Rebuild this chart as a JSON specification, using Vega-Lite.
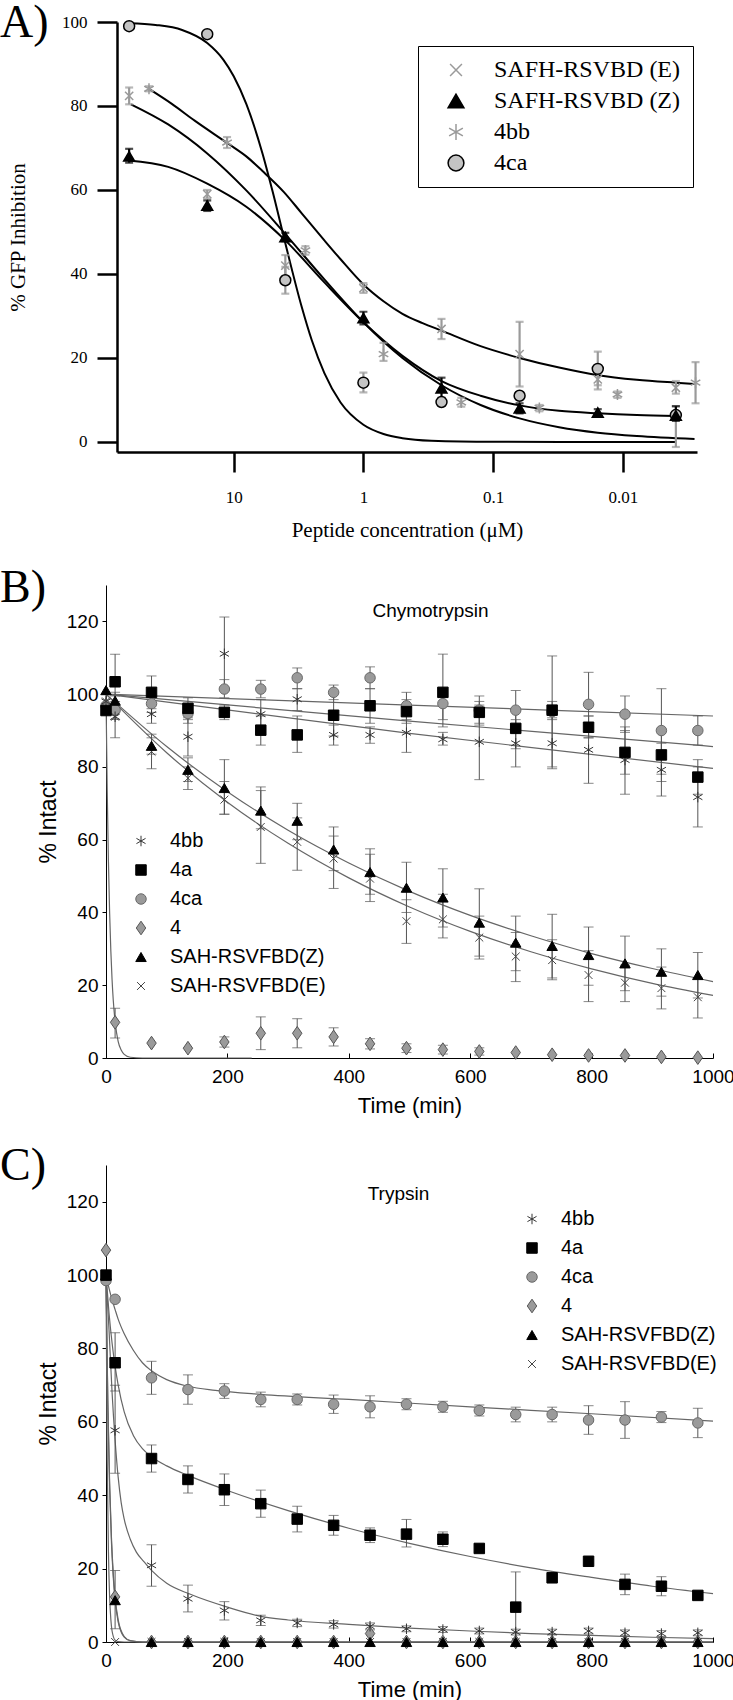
{
"$schema": "https://vega.github.io/schema/vega-lite/v6.json",
"background": "white",
"padding": 0,
"autosize": {"type": "pad"},
"config": {"view": {"stroke": null}, "axis": {"grid": false, "domainColor": "black", "tickColor": "black", "labelColor": "black", "titleColor": "black", "titleFontWeight": "normal"}, "title": {"color": "black", "fontWeight": "normal"}},
"bounds": "flush",
"spacing": 107,
"resolve": {"scale": {"x": "independent", "y": "independent", "shape": "independent", "fill": "independent", "stroke": "independent", "color": "independent"}, "legend": {"shape": "independent", "fill": "independent", "stroke": "independent"}},
"datasets": {
"Afit": [
{"c":"c1","conc":64,"val":99.7},{"c":"c1","conc":40,"val":99.3},{"c":"c1","conc":25,"val":98.1},{"c":"c1","conc":16,"val":95.0},{"c":"c1","conc":12,"val":91.0},{"c":"c1","conc":10,"val":87.1},{"c":"c1","conc":8,"val":80.5},{"c":"c1","conc":6,"val":68.7},{"c":"c1","conc":5,"val":59.5},{"c":"c1","conc":4,"val":47.3},{"c":"c1","conc":3,"val":32.3},{"c":"c1","conc":2.5,"val":24.2},{"c":"c1","conc":2,"val":16.4},{"c":"c1","conc":1.5,"val":9.4},{"c":"c1","conc":1,"val":4.1},{"c":"c1","conc":0.7,"val":1.9},{"c":"c1","conc":0.5,"val":0.9},{"c":"c1","conc":0.3,"val":0.3},{"c":"c1","conc":0.1,"val":0.03},{"c":"c1","conc":0.03,"val":0},{"c":"c1","conc":0.0039,"val":0},
{"c":"c2","conc":65,"val":67},{"c":"c2","conc":32,"val":65.5},{"c":"c2","conc":16,"val":61.5},{"c":"c2","conc":8,"val":56},{"c":"c2","conc":4,"val":48},{"c":"c2","conc":2,"val":38},{"c":"c2","conc":1,"val":28.5},{"c":"c2","conc":0.5,"val":20.5},{"c":"c2","conc":0.25,"val":14.5},{"c":"c2","conc":0.125,"val":11},{"c":"c2","conc":0.0625,"val":8.7},{"c":"c2","conc":0.031,"val":7.4},{"c":"c2","conc":0.0156,"val":6.8},{"c":"c2","conc":0.0078,"val":6.4},{"c":"c2","conc":0.0039,"val":6.2},
{"c":"c3","conc":62,"val":80.4},{"c":"c3","conc":32,"val":75.6},{"c":"c3","conc":16,"val":68.7},{"c":"c3","conc":8,"val":59.9},{"c":"c3","conc":4,"val":49.5},{"c":"c3","conc":2,"val":38.7},{"c":"c3","conc":1,"val":28.5},{"c":"c3","conc":0.5,"val":20},{"c":"c3","conc":0.25,"val":13.5},{"c":"c3","conc":0.125,"val":8.8},{"c":"c3","conc":0.0625,"val":5.6},{"c":"c3","conc":0.031,"val":3.5},{"c":"c3","conc":0.0156,"val":2.2},{"c":"c3","conc":0.0078,"val":1.4},{"c":"c3","conc":0.0028,"val":0.7},
{"c":"c4","conc":44.7,"val":84},{"c":"c4","conc":30,"val":80.5},{"c":"c4","conc":20,"val":76.5},{"c":"c4","conc":11,"val":71},{"c":"c4","conc":8,"val":68},{"c":"c4","conc":6,"val":64.5},{"c":"c4","conc":4.1,"val":59.5},{"c":"c4","conc":3,"val":54.5},{"c":"c4","conc":2,"val":48},{"c":"c4","conc":1.5,"val":43.5},{"c":"c4","conc":1,"val":37.5},{"c":"c4","conc":0.7,"val":33.5},{"c":"c4","conc":0.5,"val":30.5},{"c":"c4","conc":0.35,"val":28.3},{"c":"c4","conc":0.25,"val":26.5},{"c":"c4","conc":0.125,"val":22.8},{"c":"c4","conc":0.0625,"val":20},{"c":"c4","conc":0.031,"val":17.7},{"c":"c4","conc":0.0156,"val":15.9},{"c":"c4","conc":0.0078,"val":14.8},{"c":"c4","conc":0.0039,"val":14.1},{"c":"c4","conc":0.0028,"val":13.8}
],
"Apts": [
{"s":"E","conc":64,"val":82.4,"lo":80.4,"hi":84.4},{"s":"E","conc":16,"val":59,"lo":58,"hi":60},{"s":"E","conc":4,"val":42,"lo":39.5,"hi":44.5},{"s":"E","conc":1,"val":36.6,"lo":35.5,"hi":37.8},{"s":"E","conc":0.25,"val":26.9,"lo":24.5,"hi":29.3},{"s":"E","conc":0.0625,"val":20.9,"lo":13.2,"hi":28.6},{"s":"E","conc":0.0156,"val":14.9,"lo":12.5,"hi":17.3},{"s":"E","conc":0.0039,"val":12.9,"lo":11.5,"hi":14.5},
{"s":"4bb","conc":45,"val":84.1,"lo":83.5,"hi":84.7},{"s":"4bb","conc":11.25,"val":71.3,"lo":70,"hi":72.6},{"s":"4bb","conc":2.8,"val":45.6,"lo":44.6,"hi":46.6},{"s":"4bb","conc":0.7,"val":20.9,"lo":19.3,"hi":23.6},{"s":"4bb","conc":0.176,"val":9.4,"lo":8.4,"hi":10.5},{"s":"4bb","conc":0.044,"val":8.1,"lo":7.3,"hi":8.8},{"s":"4bb","conc":0.011,"val":11.3,"lo":10.5,"hi":12},{"s":"4bb","conc":0.00275,"val":14.1,"lo":9.2,"hi":19},
{"s":"4ca","conc":64,"val":99},{"s":"4ca","conc":16,"val":97.1},{"s":"4ca","conc":4,"val":38.5,"lo":35.3,"hi":41.7},{"s":"4ca","conc":1,"val":14.1,"lo":11.8,"hi":16.5},{"s":"4ca","conc":0.25,"val":9.5},{"s":"4ca","conc":0.0625,"val":11},{"s":"4ca","conc":0.0156,"val":17.4,"lo":13.5,"hi":21.5},{"s":"4ca","conc":0.0039,"val":6.4,"lo":-1.2,"hi":8.5},
{"s":"Z","conc":64,"val":68,"lo":66.5,"hi":69.8},{"s":"Z","conc":16,"val":56.3,"lo":55,"hi":57.5},{"s":"Z","conc":4,"val":48.8,"lo":47.8,"hi":49.8},{"s":"Z","conc":1,"val":29.5,"lo":28,"hi":31},{"s":"Z","conc":0.25,"val":12.8,"lo":10.5,"hi":15.3},{"s":"Z","conc":0.0625,"val":8,"lo":6.8,"hi":9.2},{"s":"Z","conc":0.0156,"val":7,"lo":6.3,"hi":7.8},{"s":"Z","conc":0.0039,"val":6.3,"lo":5,"hi":8.5}
],
"Bfit": [
{"c":"4ca","t":0,"val":100},{"c":"4ca","t":500,"val":97},{"c":"4ca","t":1000,"val":94},
{"c":"4a","t":0,"val":100},{"c":"4a","t":500,"val":92.6},{"c":"4a","t":1000,"val":85.6},
{"c":"4bb","t":0,"val":100},{"c":"4bb","t":500,"val":89.2},{"c":"4bb","t":1000,"val":79.6},
{"c":"Z","t":0,"val":100},{"c":"Z","t":100,"val":85.6},{"c":"Z","t":200,"val":73.2},{"c":"Z","t":300,"val":62.6},{"c":"Z","t":400,"val":53.6},{"c":"Z","t":500,"val":45.8},{"c":"Z","t":600,"val":39.2},{"c":"Z","t":700,"val":33.6},{"c":"Z","t":800,"val":28.7},{"c":"Z","t":900,"val":24.6},{"c":"Z","t":1000,"val":21.0},
{"c":"E","t":0,"val":100},{"c":"E","t":100,"val":83.9},{"c":"E","t":200,"val":70.3},{"c":"E","t":300,"val":59.0},{"c":"E","t":400,"val":49.5},{"c":"E","t":500,"val":41.5},{"c":"E","t":600,"val":34.8},{"c":"E","t":700,"val":29.2},{"c":"E","t":800,"val":24.5},{"c":"E","t":900,"val":20.5},{"c":"E","t":1000,"val":17.2},
{"c":"4","t":0,"val":100},{"c":"4","t":2,"val":73.6},{"c":"4","t":4,"val":54.1},{"c":"4","t":6,"val":39.8},{"c":"4","t":8,"val":29.3},{"c":"4","t":10,"val":21.5},{"c":"4","t":12,"val":15.8},{"c":"4","t":15,"val":10},{"c":"4","t":20,"val":4.6},{"c":"4","t":25,"val":2.2},{"c":"4","t":30,"val":1.0},{"c":"4","t":40,"val":0.2},{"c":"4","t":60,"val":0},{"c":"4","t":240,"val":0}
],
"Bpts": [
{"s":"4","t":0,"val":97},{"s":"4","t":15,"val":9.8,"lo":5.5,"hi":13.7},{"s":"4","t":75,"val":4.1},{"s":"4","t":135,"val":2.7},{"s":"4","t":195,"val":4.4,"lo":3,"hi":5.8},{"s":"4","t":255,"val":6.8,"lo":2.3,"hi":11.3},{"s":"4","t":315,"val":6.8,"lo":2.8,"hi":10.8},{"s":"4","t":375,"val":5.8,"lo":3.3,"hi":8.3},{"s":"4","t":435,"val":3.9,"lo":2.5,"hi":5.3},{"s":"4","t":495,"val":2.7,"lo":1.5,"hi":3.9},{"s":"4","t":555,"val":2.3,"lo":1.1,"hi":3.5},{"s":"4","t":615,"val":1.8,"lo":0.8,"hi":2.8},{"s":"4","t":675,"val":1.5},{"s":"4","t":735,"val":0.9},{"s":"4","t":795,"val":0.7},{"s":"4","t":855,"val":0.7},{"s":"4","t":915,"val":0.3},{"s":"4","t":975,"val":0.1},
{"s":"4ca","t":0,"val":96.8},{"s":"4ca","t":15,"val":95.6,"lo":93,"hi":98},{"s":"4ca","t":75,"val":97.4,"lo":95,"hi":100},{"s":"4ca","t":135,"val":94.7,"lo":92,"hi":97.5},{"s":"4ca","t":195,"val":101.4,"lo":99,"hi":104},{"s":"4ca","t":255,"val":101.4,"lo":99,"hi":103.8},{"s":"4ca","t":315,"val":104.5,"lo":101.5,"hi":107.2},{"s":"4ca","t":375,"val":100.5,"lo":98.5,"hi":102.5},{"s":"4ca","t":435,"val":104.5,"lo":101.5,"hi":107.5},{"s":"4ca","t":495,"val":96.8,"lo":93,"hi":100.5},{"s":"4ca","t":555,"val":97.4,"lo":93,"hi":101.5},{"s":"4ca","t":615,"val":95.6,"lo":91.5,"hi":99.5},{"s":"4ca","t":675,"val":95.6,"lo":90.5,"hi":101},{"s":"4ca","t":735,"val":95.2,"lo":80,"hi":110.5},{"s":"4ca","t":795,"val":97.2,"lo":88,"hi":106},{"s":"4ca","t":855,"val":94.5,"lo":89.5,"hi":99.5},{"s":"4ca","t":915,"val":90,"lo":78,"hi":101.5},{"s":"4ca","t":975,"val":90,"lo":86,"hi":94},
{"s":"4bb","t":0,"val":98},{"s":"4bb","t":15,"val":93.8,"lo":88,"hi":99.5},{"s":"4bb","t":75,"val":94.5,"lo":92,"hi":97},{"s":"4bb","t":135,"val":88.3,"lo":83,"hi":93.5},{"s":"4bb","t":195,"val":111.1,"lo":101.1,"hi":121.2},{"s":"4bb","t":255,"val":94.5,"lo":90.5,"hi":98.5},{"s":"4bb","t":315,"val":98.6,"lo":95.5,"hi":101.5},{"s":"4bb","t":375,"val":88.8,"lo":86,"hi":91.5},{"s":"4bb","t":435,"val":88.8,"lo":86.5,"hi":91},{"s":"4bb","t":495,"val":89.4,"lo":84,"hi":94.7},{"s":"4bb","t":555,"val":87.6,"lo":86,"hi":89.5},{"s":"4bb","t":615,"val":86.9,"lo":76.5,"hi":97},{"s":"4bb","t":675,"val":86.5,"lo":80,"hi":93},{"s":"4bb","t":735,"val":86.5,"lo":79.5,"hi":93.5},{"s":"4bb","t":795,"val":84.7,"lo":75.5,"hi":94},{"s":"4bb","t":855,"val":81.9,"lo":72.5,"hi":91},{"s":"4bb","t":915,"val":79.2,"lo":72,"hi":86.5},{"s":"4bb","t":975,"val":71.7,"lo":63.5,"hi":80},
{"s":"E","t":0,"val":98},{"s":"E","t":15,"val":93.8},{"s":"E","t":75,"val":84.2,"lo":79.5,"hi":89},{"s":"E","t":135,"val":76.9,"lo":73.8,"hi":80},{"s":"E","t":195,"val":71,"lo":67,"hi":76},{"s":"E","t":255,"val":63.5,"lo":53.5,"hi":73.5},{"s":"E","t":315,"val":59.4,"lo":51.6,"hi":66},{"s":"E","t":375,"val":54.8,"lo":46.6,"hi":61},{"s":"E","t":435,"val":49.3,"lo":43,"hi":56},{"s":"E","t":495,"val":37.6,"lo":31.5,"hi":43.5},{"s":"E","t":555,"val":38.1,"lo":33,"hi":45},{"s":"E","t":615,"val":33.1,"lo":27.2,"hi":39},{"s":"E","t":675,"val":27.9,"lo":21,"hi":34.5},{"s":"E","t":735,"val":26.9,"lo":21.5,"hi":32.5},{"s":"E","t":795,"val":22.8,"lo":15.5,"hi":29.5},{"s":"E","t":855,"val":20.7,"lo":15.5,"hi":25.5},{"s":"E","t":915,"val":19.2,"lo":13.5,"hi":25},{"s":"E","t":975,"val":16.7,"lo":11,"hi":22},
{"s":"4a","t":0,"val":95.5},{"s":"4a","t":15,"val":103.4,"lo":96,"hi":111},{"s":"4a","t":75,"val":100.5,"lo":96,"hi":105},{"s":"4a","t":135,"val":96.1,"lo":93,"hi":99},{"s":"4a","t":195,"val":95,"lo":93,"hi":97},{"s":"4a","t":255,"val":90.1,"lo":86,"hi":94},{"s":"4a","t":315,"val":88.8,"lo":84,"hi":94},{"s":"4a","t":375,"val":94.2,"lo":88.5,"hi":100},{"s":"4a","t":435,"val":96.8,"lo":92,"hi":101.5},{"s":"4a","t":495,"val":95.2,"lo":92,"hi":98.5},{"s":"4a","t":555,"val":100.5,"lo":91,"hi":111},{"s":"4a","t":615,"val":95,"lo":92,"hi":98},{"s":"4a","t":675,"val":90.6,"lo":85,"hi":96},{"s":"4a","t":735,"val":95.6,"lo":93,"hi":98},{"s":"4a","t":795,"val":90.9,"lo":88,"hi":94},{"s":"4a","t":855,"val":84,"lo":78,"hi":90},{"s":"4a","t":915,"val":83.3,"lo":76,"hi":90.5},{"s":"4a","t":975,"val":77.2,"lo":72.5,"hi":82},
{"s":"Z","t":0,"val":101.1},{"s":"Z","t":15,"val":98.2,"lo":96,"hi":100.5},{"s":"Z","t":75,"val":85.8,"lo":83.5,"hi":88},{"s":"Z","t":135,"val":79.2,"lo":76,"hi":82.5},{"s":"Z","t":195,"val":74.2,"lo":67,"hi":82},{"s":"Z","t":255,"val":68,"lo":63,"hi":74.5},{"s":"Z","t":315,"val":65.2,"lo":60,"hi":70},{"s":"Z","t":375,"val":57.3,"lo":51.5,"hi":63.5},{"s":"Z","t":435,"val":51.1,"lo":45,"hi":57.5},{"s":"Z","t":495,"val":46.8,"lo":40,"hi":53.8},{"s":"Z","t":555,"val":44.1,"lo":36,"hi":52},{"s":"Z","t":615,"val":37.2,"lo":28,"hi":46.5},{"s":"Z","t":675,"val":31.7,"lo":24,"hi":39},{"s":"Z","t":735,"val":30.8,"lo":22,"hi":39.5},{"s":"Z","t":795,"val":28.3,"lo":20,"hi":36},{"s":"Z","t":855,"val":26,"lo":18.5,"hi":33.5},{"s":"Z","t":915,"val":23.7,"lo":17,"hi":30},{"s":"Z","t":975,"val":22.8,"lo":16.5,"hi":29}
],
"Cfit": [
{"c":"4ca","t":0,"val":100},{"c":"4ca","t":5,"val":96.4},{"c":"4ca","t":10,"val":93.3},{"c":"4ca","t":15,"val":90.6},{"c":"4ca","t":20,"val":88.0},{"c":"4ca","t":30,"val":84.0},{"c":"4ca","t":45,"val":79.5},{"c":"4ca","t":60,"val":76.1},{"c":"4ca","t":75,"val":73.9},{"c":"4ca","t":100,"val":71.5},{"c":"4ca","t":135,"val":69.7},{"c":"4ca","t":180,"val":68.6},{"c":"4ca","t":255,"val":67.5},{"c":"4ca","t":400,"val":66.1},{"c":"4ca","t":600,"val":64.1},{"c":"4ca","t":800,"val":62.2},{"c":"4ca","t":1000,"val":60.2},
{"c":"4a","t":0,"val":100},{"c":"4a","t":5,"val":89.6},{"c":"4a","t":10,"val":81.5},{"c":"4a","t":15,"val":75.1},{"c":"4a","t":20,"val":70.1},{"c":"4a","t":30,"val":62.7},{"c":"4a","t":45,"val":56.3},{"c":"4a","t":60,"val":52.7},{"c":"4a","t":75,"val":50.5},{"c":"4a","t":100,"val":48},{"c":"4a","t":135,"val":45.4},{"c":"4a","t":200,"val":41.3},{"c":"4a","t":300,"val":35.8},{"c":"4a","t":400,"val":31},{"c":"4a","t":500,"val":26.9},{"c":"4a","t":600,"val":23.3},{"c":"4a","t":700,"val":20.2},{"c":"4a","t":800,"val":17.6},{"c":"4a","t":900,"val":15.2},{"c":"4a","t":1000,"val":13.2},
{"c":"4bb","t":0,"val":100},{"c":"4bb","t":5,"val":85},{"c":"4bb","t":10,"val":68},{"c":"4bb","t":15,"val":55},{"c":"4bb","t":20,"val":45},{"c":"4bb","t":25,"val":38},{"c":"4bb","t":30,"val":33.5},{"c":"4bb","t":40,"val":28},{"c":"4bb","t":50,"val":24.5},{"c":"4bb","t":62,"val":22},{"c":"4bb","t":75,"val":19.5},{"c":"4bb","t":100,"val":16},{"c":"4bb","t":139,"val":13},{"c":"4bb","t":200,"val":9.5},{"c":"4bb","t":255,"val":7},{"c":"4bb","t":300,"val":6},{"c":"4bb","t":400,"val":4.8},{"c":"4bb","t":500,"val":3.8},{"c":"4bb","t":600,"val":3.0},{"c":"4bb","t":700,"val":2.3},{"c":"4bb","t":800,"val":1.8},{"c":"4bb","t":900,"val":1.3},{"c":"4bb","t":1000,"val":0.9},
{"c":"Z","t":0,"val":100},{"c":"Z","t":3,"val":64.7},{"c":"Z","t":6,"val":41.9},{"c":"Z","t":9,"val":27.1},{"c":"Z","t":12,"val":17.6},{"c":"Z","t":15,"val":11.4},{"c":"Z","t":20,"val":5.5},{"c":"Z","t":25,"val":2.7},{"c":"Z","t":30,"val":1.3},{"c":"Z","t":40,"val":0.3},{"c":"Z","t":60,"val":0},{"c":"Z","t":1000,"val":0},
{"c":"4","t":0,"val":100},{"c":"4","t":3,"val":65.7},{"c":"4","t":6,"val":43.2},{"c":"4","t":9,"val":28.4},{"c":"4","t":12,"val":18.6},{"c":"4","t":15,"val":12.2},{"c":"4","t":20,"val":6.1},{"c":"4","t":30,"val":1.5},{"c":"4","t":40,"val":0.4},{"c":"4","t":60,"val":0},{"c":"4","t":1000,"val":0},
{"c":"E","t":0,"val":100},{"c":"E","t":2,"val":49.7},{"c":"E","t":4,"val":24.7},{"c":"E","t":6,"val":12.2},{"c":"E","t":8,"val":6.1},{"c":"E","t":10,"val":3.0},{"c":"E","t":15,"val":0.5},{"c":"E","t":20,"val":0.1},{"c":"E","t":30,"val":0},{"c":"E","t":1000,"val":0}
],
"Cpts": [
{"s":"4","t":0,"val":106.8},{"s":"4","t":15,"val":12.3},{"s":"4","t":75,"val":0},{"s":"4","t":135,"val":0},{"s":"4","t":195,"val":0},{"s":"4","t":255,"val":0},{"s":"4","t":315,"val":0},{"s":"4","t":375,"val":0},{"s":"4","t":435,"val":2.3},{"s":"4","t":495,"val":0},{"s":"4","t":555,"val":0},{"s":"4","t":615,"val":0},{"s":"4","t":675,"val":0},{"s":"4","t":735,"val":0},{"s":"4","t":795,"val":0},{"s":"4","t":855,"val":0},{"s":"4","t":915,"val":0},{"s":"4","t":975,"val":0},
{"s":"4ca","t":0,"val":98.5},{"s":"4ca","t":15,"val":93.4},{"s":"4ca","t":75,"val":72,"lo":67.5,"hi":76.5},{"s":"4ca","t":135,"val":68.8,"lo":64.8,"hi":72.8},{"s":"4ca","t":195,"val":68.4,"lo":66.4,"hi":70.4},{"s":"4ca","t":255,"val":66.1,"lo":64.1,"hi":68.1},{"s":"4ca","t":315,"val":66.1,"lo":64.6,"hi":67.6},{"s":"4ca","t":375,"val":64.8,"lo":62.3,"hi":67.3},{"s":"4ca","t":435,"val":64.1,"lo":61.1,"hi":67.1},{"s":"4ca","t":495,"val":64.8,"lo":63.3,"hi":66.3},{"s":"4ca","t":555,"val":64.1,"lo":62.6,"hi":65.6},{"s":"4ca","t":615,"val":63.1,"lo":61.6,"hi":64.6},{"s":"4ca","t":675,"val":62,"lo":60,"hi":64},{"s":"4ca","t":735,"val":62,"lo":60,"hi":64},{"s":"4ca","t":795,"val":60.5,"lo":56.6,"hi":64.4},{"s":"4ca","t":855,"val":60.5,"lo":55.5,"hi":65.5},{"s":"4ca","t":915,"val":61.3,"lo":59.8,"hi":62.8},{"s":"4ca","t":975,"val":59.7,"lo":55.7,"hi":63.7},
{"s":"4bb","t":0,"val":100},{"s":"4bb","t":15,"val":57.7,"lo":46,"hi":70},{"s":"4bb","t":75,"val":20.9,"lo":15.2,"hi":26.5},{"s":"4bb","t":135,"val":11.8,"lo":8.2,"hi":15.5},{"s":"4bb","t":195,"val":8.6,"lo":6,"hi":11},{"s":"4bb","t":255,"val":5.9,"lo":4.5,"hi":7.3},{"s":"4bb","t":315,"val":5.2,"lo":4.2,"hi":6.2},{"s":"4bb","t":375,"val":4.8,"lo":3.8,"hi":5.8},{"s":"4bb","t":435,"val":4.3,"lo":3.3,"hi":5.2},{"s":"4bb","t":495,"val":3.6,"lo":2.8,"hi":4.4},{"s":"4bb","t":555,"val":3.4,"lo":2.6,"hi":4.2},{"s":"4bb","t":615,"val":3.0,"lo":2.2,"hi":3.8},{"s":"4bb","t":675,"val":2.7,"lo":1.9,"hi":3.5},{"s":"4bb","t":735,"val":2.7,"lo":1.9,"hi":3.5},{"s":"4bb","t":795,"val":3.0,"lo":2.2,"hi":3.8},{"s":"4bb","t":855,"val":2.5,"lo":1.7,"hi":3.3},{"s":"4bb","t":915,"val":2.3,"lo":1.5,"hi":3.1},{"s":"4bb","t":975,"val":2.5,"lo":1.7,"hi":3.3},
{"s":"E","t":0,"val":100},{"s":"E","t":15,"val":0},{"s":"E","t":75,"val":0},{"s":"E","t":135,"val":0},{"s":"E","t":195,"val":0},{"s":"E","t":255,"val":0},{"s":"E","t":315,"val":0},{"s":"E","t":375,"val":0},{"s":"E","t":435,"val":0},{"s":"E","t":495,"val":0},{"s":"E","t":555,"val":0},{"s":"E","t":615,"val":0},{"s":"E","t":675,"val":0},{"s":"E","t":735,"val":0},{"s":"E","t":795,"val":0},{"s":"E","t":855,"val":0},{"s":"E","t":915,"val":0},{"s":"E","t":975,"val":0},
{"s":"4a","t":0,"val":100},{"s":"4a","t":15,"val":76.1,"lo":68.4,"hi":84.3},{"s":"4a","t":75,"val":50,"lo":46.3,"hi":53.7},{"s":"4a","t":135,"val":44.3,"lo":40.6,"hi":48},{"s":"4a","t":195,"val":41.5,"lo":37.2,"hi":45.8},{"s":"4a","t":255,"val":37.7,"lo":34,"hi":41.4},{"s":"4a","t":315,"val":33.5,"lo":30,"hi":37},{"s":"4a","t":375,"val":31.8,"lo":29.1,"hi":34.5},{"s":"4a","t":435,"val":29.1,"lo":27.1,"hi":31.1},{"s":"4a","t":495,"val":29.4,"lo":25.9,"hi":33.4},{"s":"4a","t":555,"val":28,"lo":26,"hi":30},{"s":"4a","t":615,"val":25.5,"lo":24.5,"hi":26.5},{"s":"4a","t":675,"val":9.5,"lo":0,"hi":19.1},{"s":"4a","t":735,"val":17.5,"lo":16.5,"hi":18.5},{"s":"4a","t":795,"val":22,"lo":21.5,"hi":22.5},{"s":"4a","t":855,"val":15.7,"lo":12.9,"hi":18.5},{"s":"4a","t":915,"val":15.2,"lo":12.6,"hi":17.8},{"s":"4a","t":975,"val":12.7,"lo":11.7,"hi":13.7},
{"s":"Z","t":0,"val":100},{"s":"Z","t":15,"val":11.4,"lo":3.6,"hi":19.5},{"s":"Z","t":75,"val":0},{"s":"Z","t":135,"val":0},{"s":"Z","t":195,"val":0},{"s":"Z","t":255,"val":0},{"s":"Z","t":315,"val":0},{"s":"Z","t":375,"val":0},{"s":"Z","t":435,"val":0},{"s":"Z","t":495,"val":0},{"s":"Z","t":555,"val":0},{"s":"Z","t":615,"val":0},{"s":"Z","t":675,"val":0},{"s":"Z","t":735,"val":0},{"s":"Z","t":795,"val":0},{"s":"Z","t":855,"val":0},{"s":"Z","t":915,"val":0},{"s":"Z","t":975,"val":0}
]
},
"vconcat": [
{
"width": 591, "height": 456,
"title": {"text": "A)", "anchor": "start", "frame": "group", "dx": -106, "offset": -34, "font": "Liberation Serif", "fontSize": 46, "fontWeight": "normal"},
"layer": [
{"data": {"name": "Afit"}, "mark": {"type": "line", "color": "black", "strokeWidth": 2, "interpolate": "monotone"},
 "encoding": {
  "x": {"field": "conc", "type": "quantitative", "title": "Peptide concentration (μM)", "scale": {"type": "log", "domain": [0.00268, 79.4], "reverse": true, "range": [11, 591], "nice": false},
        "axis": {"values": [10, 1, 0.1, 0.01], "format": "~g", "offset": -26, "tickSize": 20, "tickWidth": 2.5, "domainWidth": 2.5, "labelPadding": 17, "labelFlush": false, "labelFont": "Liberation Serif", "labelFontSize": 17, "titleFont": "Liberation Serif", "titleFontSize": 21, "titlePadding": 14}},
  "y": {"field": "val", "type": "quantitative", "title": "% GFP Inhibition", "scale": {"domain": [-2.4, 100], "range": [430, 0], "nice": false, "zero": false},
        "axis": {"values": [0, 20, 40, 60, 80, 100], "offset": -11, "tickSize": 20, "tickWidth": 2.5, "domainWidth": 2.5, "labelPadding": 10, "labelFont": "Liberation Serif", "labelFontSize": 17, "titleFont": "Liberation Serif", "titleFontSize": 21, "titlePadding": 33}},
  "detail": {"field": "c"}}},
{"data": {"name": "Apts"}, "transform": [{"filter": "isValid(datum.lo) && datum.s != 'Z'"}],
 "mark": {"type": "errorbar", "ticks": {"size": 8}, "thickness": 2.2, "color": "#9a9a9a"},
 "encoding": {
  "x": {"field": "conc", "type": "quantitative", "title": "Peptide concentration (μM)"},
  "y": {"field": "lo", "type": "quantitative", "title": "% GFP Inhibition"},
  "y2": {"field": "hi"}}},
{"data": {"name": "Apts"}, "transform": [{"filter": "isValid(datum.lo) && datum.s == 'Z'"}],
 "mark": {"type": "errorbar", "ticks": {"size": 8}, "thickness": 2.2, "color": "#000000"},
 "encoding": {
  "x": {"field": "conc", "type": "quantitative", "title": "Peptide concentration (μM)"},
  "y": {"field": "lo", "type": "quantitative", "title": "% GFP Inhibition"},
  "y2": {"field": "hi"}}},
{"data": {"name": "Apts"}, "mark": {"type": "point", "filled": true, "size": 120, "strokeWidth": 1.5, "opacity": 1},
 "encoding": {
  "x": {"field": "conc", "type": "quantitative", "title": "Peptide concentration (μM)"},
  "y": {"field": "val", "type": "quantitative", "title": "% GFP Inhibition"},
  "shape": {"field": "s", "type": "nominal", "scale": {"domain": ["E", "Z", "4bb", "4ca"], "range": ["M-0.75,-0.75L0.75,0.75M-0.75,0.75L0.75,-0.75", "triangle-up", "M0,-1L0,1M-0.87,-0.5L0.87,0.5M-0.87,0.5L0.87,-0.5", "circle"]},
   "legend": {"title": null, "orient": "none", "legendX": 312, "legendY": 24, "labelExpr": "datum.label == 'E' ? 'SAFH-RSVBD (E)' : datum.label == 'Z' ? 'SAFH-RSVBD (Z)' : datum.label", "labelFont": "Liberation Serif", "labelFontSize": 24, "labelLimit": 400, "labelColor": "black", "symbolSize": 250, "symbolStrokeWidth": 1.5, "padding": 12, "symbolOffset": 14, "labelOffset": 26, "rowPadding": 7, "strokeColor": "black", "fillColor": "white", "encode": {"legend": {"update": {"strokeWidth": {"value": 2}}}}}},
  "fill": {"field": "s", "type": "nominal", "scale": {"domain": ["E", "Z", "4bb", "4ca"], "range": ["#9a9a9a", "#000000", "#9a9a9a", "#c4c4c4"]},
   "legend": {"title": null, "orient": "none", "legendX": 312, "legendY": 24, "labelExpr": "datum.label == 'E' ? 'SAFH-RSVBD (E)' : datum.label == 'Z' ? 'SAFH-RSVBD (Z)' : datum.label", "labelFont": "Liberation Serif", "labelFontSize": 24, "labelLimit": 400, "labelColor": "black", "symbolSize": 250, "symbolStrokeWidth": 1.5, "padding": 12, "symbolOffset": 14, "labelOffset": 26, "rowPadding": 7, "strokeColor": "black", "fillColor": "white", "encode": {"legend": {"update": {"strokeWidth": {"value": 2}}}}}},
  "stroke": {"field": "s", "type": "nominal", "scale": {"domain": ["E", "Z", "4bb", "4ca"], "range": ["#9a9a9a", "#000000", "#9a9a9a", "#000000"]},
   "legend": {"title": null, "orient": "none", "legendX": 312, "legendY": 24, "labelExpr": "datum.label == 'E' ? 'SAFH-RSVBD (E)' : datum.label == 'Z' ? 'SAFH-RSVBD (Z)' : datum.label", "labelFont": "Liberation Serif", "labelFontSize": 24, "labelLimit": 400, "labelColor": "black", "symbolSize": 250, "symbolStrokeWidth": 1.5, "padding": 12, "symbolOffset": 14, "labelOffset": 26, "rowPadding": 7, "strokeColor": "black", "fillColor": "white", "encode": {"legend": {"update": {"strokeWidth": {"value": 2}}}}}}}}
]
},
{
"width": 607, "height": 473,
"title": {"text": "B)", "anchor": "start", "frame": "group", "dx": -106, "offset": -27, "font": "Liberation Serif", "fontSize": 46, "fontWeight": "normal"},
"resolve": {"axis": {"x": "independent"}},
"layer": [
{"data": {"name": "Bfit"}, "mark": {"type": "line", "color": "#666666", "strokeWidth": 1.2, "interpolate": "monotone"},
 "encoding": {
  "x": {"field": "t", "type": "quantitative", "scale": {"domain": [0, 1000], "nice": false},
        "axis": {"orient": "top", "title": "Chymotrypsin", "domain": false, "ticks": false, "labels": false, "minExtent": 0, "maxExtent": 0, "titlePadding": -35, "titleX": 324, "titleFont": "Liberation Sans", "titleFontSize": 19}},
  "y": {"field": "val", "type": "quantitative", "title": "% Intact", "scale": {"domain": [0, 130], "nice": false},
        "axis": {"values": [0, 20, 40, 60, 80, 100, 120], "tickSize": 4, "labelPadding": 4, "labelFont": "Liberation Sans", "labelFontSize": 19, "titleFont": "Liberation Sans", "titleFontSize": 23, "titlePadding": 6}},
  "detail": {"field": "c"}}},
{"data": {"name": "Bpts"}, "transform": [{"filter": "isValid(datum.lo)"}],
 "mark": {"type": "errorbar", "ticks": {"size": 10}, "thickness": 1, "color": "#555555"},
 "encoding": {
  "x": {"field": "t", "type": "quantitative", "axis": null},
  "y": {"field": "lo", "type": "quantitative", "title": "% Intact"},
  "y2": {"field": "hi"}}},
{"data": {"name": "Bpts"}, "mark": {"type": "point", "filled": true, "size": 110, "strokeWidth": 1, "opacity": 1},
 "encoding": {
  "x": {"field": "t", "type": "quantitative",
        "axis": {"values": [0, 200, 400, 600, 800, 1000], "format": "d", "tickSize": -5, "labelPadding": 14, "labelFlush": false, "labelFont": "Liberation Sans", "labelFontSize": 19, "title": "Time (min)", "titleFont": "Liberation Sans", "titleFontSize": 22, "titlePadding": 9}},
  "y": {"field": "val", "type": "quantitative", "title": "% Intact"},
  "shape": {"field": "s", "type": "nominal", "scale": {"domain": ["4bb", "4a", "4ca", "4", "Z", "E"], "range": ["M0,-1L0,1M-0.87,-0.5L0.87,0.5M-0.87,0.5L0.87,-0.5", "square", "circle", "M0,-1.3L0.9,0L0,1.3L-0.9,0Z", "triangle-up", "M-0.75,-0.75L0.75,0.75M-0.75,0.75L0.75,-0.75"]},
   "legend": {"title": null, "orient": "none", "legendX": 25, "legendY": 246, "labelExpr": "datum.label == 'E' ? 'SAH-RSVFBD(E)' : datum.label == 'Z' ? 'SAH-RSVFBD(Z)' : datum.label", "labelFont": "Liberation Sans", "labelFontSize": 20, "labelLimit": 400, "labelColor": "black", "symbolSize": 110, "symbolStrokeWidth": 1, "padding": 0, "labelOffset": 19, "rowPadding": 9}},
  "fill": {"field": "s", "type": "nominal", "scale": {"domain": ["4bb", "4a", "4ca", "4", "Z", "E"], "range": ["#333333", "#000000", "#9a9a9a", "#9a9a9a", "#000000", "#333333"]},
   "legend": {"title": null, "orient": "none", "legendX": 25, "legendY": 246, "labelExpr": "datum.label == 'E' ? 'SAH-RSVFBD(E)' : datum.label == 'Z' ? 'SAH-RSVFBD(Z)' : datum.label", "labelFont": "Liberation Sans", "labelFontSize": 20, "labelLimit": 400, "labelColor": "black", "symbolSize": 110, "symbolStrokeWidth": 1, "padding": 0, "labelOffset": 19, "rowPadding": 9}},
  "stroke": {"field": "s", "type": "nominal", "scale": {"domain": ["4bb", "4a", "4ca", "4", "Z", "E"], "range": ["#333333", "#000000", "#6a6a6a", "#555555", "#000000", "#444444"]},
   "legend": {"title": null, "orient": "none", "legendX": 25, "legendY": 246, "labelExpr": "datum.label == 'E' ? 'SAH-RSVFBD(E)' : datum.label == 'Z' ? 'SAH-RSVFBD(Z)' : datum.label", "labelFont": "Liberation Sans", "labelFontSize": 20, "labelLimit": 400, "labelColor": "black", "symbolSize": 110, "symbolStrokeWidth": 1, "padding": 0, "labelOffset": 19, "rowPadding": 9}}}}
]
},
{
"width": 607, "height": 477,
"title": {"text": "C)", "anchor": "start", "frame": "group", "dx": -106, "offset": -25, "font": "Liberation Serif", "fontSize": 46, "fontWeight": "normal"},
"resolve": {"axis": {"x": "independent"}},
"layer": [
{"data": {"name": "Cfit"}, "mark": {"type": "line", "color": "#666666", "strokeWidth": 1.2, "interpolate": "monotone"},
 "encoding": {
  "x": {"field": "t", "type": "quantitative", "scale": {"domain": [0, 1000], "nice": false},
        "axis": {"orient": "top", "title": "Trypsin", "domain": false, "ticks": false, "labels": false, "minExtent": 0, "maxExtent": 0, "titlePadding": -38, "titleX": 292, "titleFont": "Liberation Sans", "titleFontSize": 19}},
  "y": {"field": "val", "type": "quantitative", "title": "% Intact", "scale": {"domain": [0, 130], "nice": false},
        "axis": {"values": [0, 20, 40, 60, 80, 100, 120], "tickSize": 4, "labelPadding": 4, "labelFont": "Liberation Sans", "labelFontSize": 19, "titleFont": "Liberation Sans", "titleFontSize": 23, "titlePadding": 6}},
  "detail": {"field": "c"}}},
{"data": {"name": "Cpts"}, "transform": [{"filter": "isValid(datum.lo)"}],
 "mark": {"type": "errorbar", "ticks": {"size": 10}, "thickness": 1, "color": "#555555"},
 "encoding": {
  "x": {"field": "t", "type": "quantitative", "axis": null},
  "y": {"field": "lo", "type": "quantitative", "title": "% Intact"},
  "y2": {"field": "hi"}}},
{"data": {"name": "Cpts"}, "mark": {"type": "point", "filled": true, "size": 110, "strokeWidth": 1, "opacity": 1},
 "encoding": {
  "x": {"field": "t", "type": "quantitative",
        "axis": {"values": [0, 200, 400, 600, 800, 1000], "format": "d", "tickSize": -5, "labelPadding": 14, "labelFlush": false, "labelFont": "Liberation Sans", "labelFontSize": 19, "title": "Time (min)", "titleFont": "Liberation Sans", "titleFontSize": 22, "titlePadding": 9}},
  "y": {"field": "val", "type": "quantitative", "title": "% Intact"},
  "shape": {"field": "s", "type": "nominal", "scale": {"domain": ["4bb", "4a", "4ca", "4", "Z", "E"], "range": ["M0,-1L0,1M-0.87,-0.5L0.87,0.5M-0.87,0.5L0.87,-0.5", "square", "circle", "M0,-1.3L0.9,0L0,1.3L-0.9,0Z", "triangle-up", "M-0.75,-0.75L0.75,0.75M-0.75,0.75L0.75,-0.75"]},
   "legend": {"title": null, "orient": "none", "legendX": 416, "legendY": 44, "labelExpr": "datum.label == 'E' ? 'SAH-RSVFBD(E)' : datum.label == 'Z' ? 'SAH-RSVFBD(Z)' : datum.label", "labelFont": "Liberation Sans", "labelFontSize": 20, "labelLimit": 400, "labelColor": "black", "symbolSize": 110, "symbolStrokeWidth": 1, "padding": 0, "labelOffset": 19, "rowPadding": 9}},
  "fill": {"field": "s", "type": "nominal", "scale": {"domain": ["4bb", "4a", "4ca", "4", "Z", "E"], "range": ["#333333", "#000000", "#9a9a9a", "#9a9a9a", "#000000", "#333333"]},
   "legend": {"title": null, "orient": "none", "legendX": 416, "legendY": 44, "labelExpr": "datum.label == 'E' ? 'SAH-RSVFBD(E)' : datum.label == 'Z' ? 'SAH-RSVFBD(Z)' : datum.label", "labelFont": "Liberation Sans", "labelFontSize": 20, "labelLimit": 400, "labelColor": "black", "symbolSize": 110, "symbolStrokeWidth": 1, "padding": 0, "labelOffset": 19, "rowPadding": 9}},
  "stroke": {"field": "s", "type": "nominal", "scale": {"domain": ["4bb", "4a", "4ca", "4", "Z", "E"], "range": ["#333333", "#000000", "#6a6a6a", "#555555", "#000000", "#444444"]},
   "legend": {"title": null, "orient": "none", "legendX": 416, "legendY": 44, "labelExpr": "datum.label == 'E' ? 'SAH-RSVFBD(E)' : datum.label == 'Z' ? 'SAH-RSVFBD(Z)' : datum.label", "labelFont": "Liberation Sans", "labelFontSize": 20, "labelLimit": 400, "labelColor": "black", "symbolSize": 110, "symbolStrokeWidth": 1, "padding": 0, "labelOffset": 19, "rowPadding": 9}}}}
]
}
]
}
